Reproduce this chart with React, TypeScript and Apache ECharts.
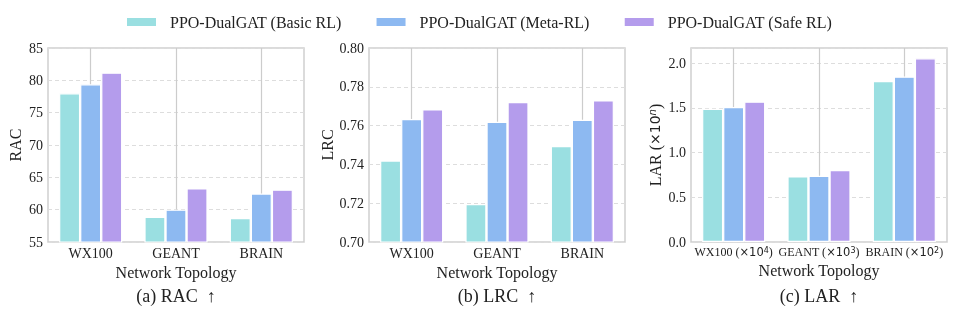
import React, { useEffect, useRef } from "react";
import * as echarts from "echarts";

const categories = ["WX100", "GEANT", "BRAIN"];
const larCategories = ["WX100", "GEANT", "BRAIN"];
const larExponents = ["4", "3", "2"];
const seriesNames = ["PPO-DualGAT (Basic RL)", "PPO-DualGAT (Meta-RL)", "PPO-DualGAT (Safe RL)"];
const colors = ["#9adfe1", "#8db9f1", "#b49cec"];

const racBasic = [78.0, 58.9, 58.7];
const racMeta = [79.4, 60.0, 62.5];
const racSafe = [81.2, 63.3, 63.1];

const lrcBasic = [0.742, 0.7196, 0.7495];
const lrcMeta = [0.7634, 0.762, 0.763];
const lrcSafe = [0.7684, 0.7722, 0.773];

const larBasic = [1.49, 0.734, 1.8];
const larMeta = [1.51, 0.741, 1.85];
const larSafe = [1.57, 0.804, 2.056];

const FONT = "'Liberation Serif', 'Times New Roman', serif";
const SANS = "'DejaVu Sans', sans-serif";

export default function App() {
  const ref = useRef<HTMLDivElement>(null);
  useEffect(() => {
    if (!ref.current) return;
    const chart = echarts.init(ref.current, undefined, { renderer: "svg" });
    const grids = [
      { left: 48, top: 48, width: 256, height: 194 },
      { left: 369, top: 48, width: 256, height: 194 },
      { left: 691, top: 48, width: 256, height: 194 },
    ];
    const xCats = [categories, categories, larCategories];
    const panelData = [
      [racBasic, racMeta, racSafe],
      [lrcBasic, lrcMeta, lrcSafe],
      [larBasic, larMeta, larSafe],
    ];
    const yConf = [
      { min: 55, max: 85, interval: 5, name: "RAC", gap: 25, fmt: (v: number) => String(Math.round(v)) },
      { min: 0.7, max: 0.8, interval: 0.02, name: "LRC", gap: 33, fmt: (v: number) => v.toFixed(2) },
      {
        min: 0,
        max: 2.17,
        interval: 0.5,
        name: "{a|LAR (}{m|×10}{s|n}{a|)}",
        gap: 28,
        fmt: (v: number) => (Math.abs(v / 0.5 - Math.round(v / 0.5)) < 1e-6 ? v.toFixed(1) : ""),
      },
    ];
    const subtitles = ["(a) RAC  ↑", "(b) LRC  ↑", "(c) LAR  ↑"];

    const series: any[] = [];
    panelData.forEach((arrs, p) => {
      arrs.forEach((d, s) => {
        series.push({
          type: "bar",
          name: seriesNames[s],
          xAxisIndex: p,
          yAxisIndex: p,
          data: d,
          z: 3,
          barGap: "0%",
          barCategoryGap: "26%",
          itemStyle: { color: colors[s], borderColor: "#ffffff", borderWidth: 1.2 },
        });
      });
    });

    const nameRich = {
      a: { fontFamily: FONT, fontSize: 16, color: "#222" },
      m: { fontFamily: SANS, fontSize: 14, color: "#222" },
      s: { fontFamily: SANS, fontSize: 10, color: "#222", fontStyle: "italic", verticalAlign: "top" },
    };
    const labelRich = {
      a: { fontFamily: FONT, fontSize: 12, color: "#222" },
      m: { fontFamily: SANS, fontSize: 11.5, color: "#222" },
      s: { fontFamily: SANS, fontSize: 8, color: "#222", verticalAlign: "top" },
    };

    chart.setOption({
      animation: false,
      textStyle: { fontFamily: FONT },
      legend: {
        data: seriesNames,
        left: 120,
        top: 9,
        itemWidth: 31,
        itemHeight: 10,
        itemGap: 33,
        icon: "rect",
        textStyle: { fontFamily: FONT, fontSize: 16, color: "#222", padding: [0, 0, 0, 8] },
      },
      grid: grids.map((g) => ({ ...g, show: true, borderColor: "#cfcfcf", borderWidth: 1.5, containLabel: false })),
      xAxis: xCats.map((c, p) => ({
        type: "category",
        gridIndex: p,
        data: c,
        name: "Network Topology",
        nameLocation: "middle",
        nameGap: 20,
        nameTextStyle: { fontFamily: FONT, fontSize: 16, color: "#222" },
        axisLine: { show: false },
        axisTick: { show: false, alignWithLabel: true },
        splitLine: {
          show: true,
          alignWithLabel: true,
          interval: 0,
          lineStyle: { color: "#cccccc", type: "solid", width: 1.2 },
        },
        axisLabel:
          p === 2
            ? {
                interval: 0,
                margin: 4,
                formatter: (v: string, i: number) => `{a|${v} (}{m|×10}{s|${larExponents[i]}}{a|)}`,
                rich: labelRich,
              }
            : {
                interval: 0,
                margin: 4,
                fontFamily: FONT,
                fontSize: 14,
                color: "#222",
              },
      })),
      yAxis: yConf.map((y, p) => ({
        type: "value",
        gridIndex: p,
        min: y.min,
        max: y.max,
        interval: y.interval,
        name: y.name,
        nameLocation: "middle",
        nameGap: y.gap,
        nameTextStyle: p === 2 ? { rich: nameRich } : { fontFamily: FONT, fontSize: 16, color: "#222" },
        axisLine: { show: false },
        axisTick: { show: false },
        axisLabel: { margin: 5, fontFamily: FONT, fontSize: 14, color: "#222", formatter: y.fmt },
        splitLine: { show: true, lineStyle: { color: "#dddddd", type: [4, 3], width: 1 } },
      })),
      series,
      graphic: subtitles.map((t, p) => ({
        type: "text",
        x: grids[p].left + grids[p].width / 2,
        y: 296,
        style: {
          text: t,
          fontFamily: FONT,
          fontSize: 18,
          fill: "#222",
          textAlign: "center",
          textVerticalAlign: "middle",
        },
      })),
    });
    return () => chart.dispose();
  }, []);
  return <div ref={ref} style={{ position: "fixed", left: 0, top: 0, width: 957, height: 316 }} />;
}
